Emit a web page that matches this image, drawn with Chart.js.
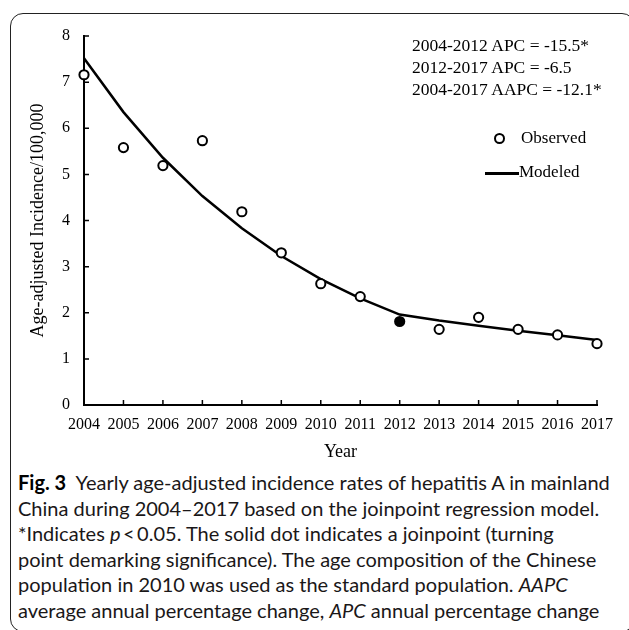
<!DOCTYPE html>
<html>
<head>
<meta charset="utf-8">
<script src="https://cdn.jsdelivr.net/npm/chart.js@4.4.1/dist/chart.umd.min.js"></script>
<style>
    html, body { margin: 0; padding: 0; background: #fff; }
    body { width: 629px; height: 630px; position: relative; overflow: hidden; }
    #frame {
        position: absolute; left: 10px; top: 13px; width: 625px; height: 619px;
        border: 1.5px solid #222; border-radius: 13px; box-sizing: border-box;
    }
    #chart-wrap { position: absolute; left: 0; top: 0; width: 629px; height: 470px; }
    .serif { font-family: "Liberation Serif", "Times New Roman", serif; color: #000; }
    #stats { position: absolute; left: 412px; top: 34px; font-size: 17.5px; line-height: 22px; white-space: nowrap; }
    .legend-row { position: absolute; font-size: 17px; line-height: 20px; white-space: nowrap; }
    .mark-circle { position: absolute; width: 7px; height: 7px; border: 2px solid #000; border-radius: 50%; background: #fff; }
    .mark-line { position: absolute; height: 2.5px; background: #000; }
    #caption {
        position: absolute; left: 18px; top: 470px; font-family: Lato, "Open Sans", sans-serif;
        font-size: 20px; line-height: 25.5px; color: #1a1718; white-space: nowrap;
    }
    #caption b { font-weight: 700; color: #000; }
</style>
</head>
<body>
<div id="frame"></div>
<div id="chart-wrap"><canvas id="chart-trend"></canvas></div>
<div id="stats" class="serif"></div>
<div id="legend" class="serif"></div>
<div id="caption">
    <b>Fig. 3</b>&nbsp; Yearly age-adjusted incidence rates of hepatitis A in mainland<br>
    China during 2004–2017 based on the joinpoint regression model.<br>
    *Indicates <i>p</i>&thinsp;&lt;&thinsp;0.05. The solid dot indicates a joinpoint (turning<br>
    point demarking significance). The age composition of the Chinese<br>
    population in 2010 was used as the standard population. <i>AAPC</i><br>
    average annual percentage change, <i>APC</i> annual percentage change
</div>
<script>
// ---- data ----
const YEARS = ['2004', '2005', '2006', '2007', '2008', '2009', '2010',
               '2011', '2012', '2013', '2014', '2015', '2016', '2017'];
const OBSERVED = [7.16, 5.58, 5.19, 5.73, 4.19, 3.30, 2.63, 2.35, 1.81, 1.64, 1.90, 1.64, 1.52, 1.33];
const MODELED  = [7.52, 6.35, 5.36, 4.53, 3.83, 3.23, 2.73, 2.31, 1.96, 1.83, 1.72, 1.61, 1.51, 1.41];
const JOINPOINT_YEAR = '2012';
const Y_TICKS = { min: 0, max: 8, step: 1 };
const STATS = ['2004-2012 APC = -15.5*', '2012-2017 APC = -6.5', '2004-2017 AAPC = -12.1*'];
const LEGEND = ['Observed', 'Modeled'];

const SERIF = '"Liberation Serif", "Times New Roman", serif';

// ticks that point into the plot, like the original
const inwardTicks = {
    id: 'inwardTicks',
    afterDraw(chart) {
        const { ctx, scales: { x, y } } = chart;
        ctx.save();
        ctx.strokeStyle = '#000';
        ctx.lineWidth = 1.5;
        ctx.beginPath();
        x.ticks.forEach((_, i) => {
            const px = x.getPixelForTick(i);
            ctx.moveTo(px, x.top); ctx.lineTo(px, x.top - 5);
        });
        y.ticks.forEach((_, i) => {
            const py = y.getPixelForTick(i);
            ctx.moveTo(y.right, py); ctx.lineTo(y.right + 5, py);
        });
        ctx.stroke();
        ctx.restore();
    }
};

new Chart(document.getElementById('chart-trend'), {
    type: 'line',
    data: {
        labels: YEARS,
        datasets: [
            {
                label: LEGEND[0],
                data: OBSERVED,
                showLine: false,
                pointRadius: 4.6,
                pointBorderWidth: 2,
                pointBorderColor: '#000',
                pointBackgroundColor: YEARS.map(yr => yr === JOINPOINT_YEAR ? '#000' : '#fff'),
                order: 0,
                clip: false,
            },
            {
                label: LEGEND[1],
                data: MODELED,
                borderColor: '#000',
                borderWidth: 2.5,
                tension: 0,
                pointRadius: 0,
                order: 1,
                clip: false,
            }
        ]
    },
    options: {
        responsive: true, maintainAspectRatio: false, animation: false,
        layout: { padding: { top: 36, right: 32, bottom: 0, left: 0 } },
        plugins: { legend: { display: false }, tooltip: { enabled: false } },
        scales: {
            x: {
                grid: { display: false, drawTicks: false },
                border: { display: true, color: '#000', width: 2 },
                ticks: { color: '#000', padding: 10, maxRotation: 0, autoSkip: false, font: { family: SERIF, size: 16 } },
                title: { display: true, text: 'Year', color: '#000', padding: { top: 0, bottom: 7 }, font: { family: SERIF, size: 18 } },
                afterFit: s => { s.height = 65; }
            },
            y: {
                min: Y_TICKS.min, max: Y_TICKS.max,
                grid: { display: false, drawTicks: false },
                border: { display: true, color: '#000', width: 2 },
                ticks: { stepSize: Y_TICKS.step, color: '#000', padding: 14, font: { family: SERIF, size: 16 } },
                title: { display: true, text: 'Age-adjusted Incidence/100,000', color: '#000', padding: { top: 27, bottom: 0 }, font: { family: SERIF, size: 18 } },
                afterFit: s => { s.width = 84; }
            }
        }
    },
    plugins: [inwardTicks]
});

// annotation block
document.getElementById('stats').innerHTML = STATS.join('<br>');

// legend
const legend = document.getElementById('legend');
legend.innerHTML = `
    <div class="mark-circle" style="left:494px;top:133px"></div>
    <div class="legend-row" style="left:521px;top:128px">${LEGEND[0]}</div>
    <div class="mark-line" style="left:485px;top:172px;width:34px"></div>
    <div class="legend-row" style="left:519px;top:162px">${LEGEND[1]}</div>`;
</script>
</body>
</html>
